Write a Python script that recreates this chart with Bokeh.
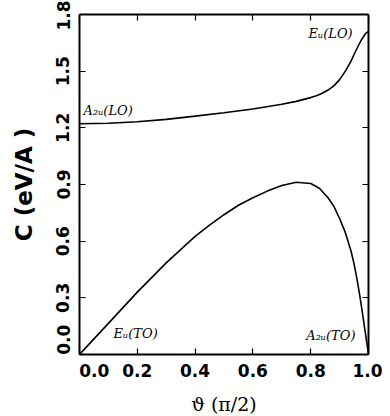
from bokeh.plotting import figure
from bokeh.models import LinearAxis, FixedTicker, NumeralTickFormatter, Range1d
from bokeh.core.properties import value
from bokeh.embed import file_html
from bokeh.resources import INLINE

# upper branch: A2u(LO) -> Eu(LO)
theta_lo = [0.0, 0.1, 0.2, 0.3, 0.4, 0.5, 0.6, 0.7, 0.75, 0.8, 0.82, 0.84, 0.86, 0.88, 0.9, 0.92, 0.94, 0.96, 0.975, 0.99, 1.0]
c_lo = [1.222, 1.224, 1.232, 1.245, 1.262, 1.28, 1.30, 1.325, 1.34, 1.36, 1.37, 1.383, 1.40, 1.422, 1.455, 1.50, 1.555, 1.62, 1.665, 1.70, 1.71]

# lower branch: Eu(TO) -> A2u(TO)
theta_to = [0.0, 0.1, 0.2, 0.3, 0.4, 0.45, 0.5, 0.55, 0.6, 0.65, 0.7, 0.75, 0.8, 0.83, 0.86, 0.88, 0.9, 0.92, 0.94, 0.95, 0.96, 0.97, 0.98, 0.99, 1.0]
c_to = [0.0, 0.165, 0.33, 0.485, 0.625, 0.685, 0.74, 0.79, 0.83, 0.865, 0.895, 0.912, 0.905, 0.88, 0.83, 0.785, 0.72, 0.645, 0.545, 0.48, 0.40, 0.31, 0.21, 0.105, 0.0]

x_ticks = [0.0, 0.2, 0.4, 0.6, 0.8, 1.0]
y_ticks = [0.0, 0.3, 0.6, 0.9, 1.2, 1.5, 1.8]

labels_text = ["A\u2082\u1d64(LO)", "E\u1d64(LO)", "E\u1d64(TO)", "A\u2082\u1d64(TO)"]
labels_x = [0.014, 0.945, 0.118, 0.955]
labels_y = [1.29, 1.70, 0.11, 0.10]

TICK_FONT = "DejaVu Sans"
TICK_SIZE = "17px"
PAD = "\u00a0" * 5  # shifts the corner "0.0" labels off the corner, as in the original

p = figure(frame_width=289, frame_height=340, output_backend="svg", toolbar_location=None,
           x_range=Range1d(0, 1.0), y_range=Range1d(0, 1.8),
           min_border_left=79, min_border_right=14, min_border_top=14, min_border_bottom=52)
p.outline_line_color = None
p.xgrid.visible = False
p.ygrid.visible = False
p.background_fill_color = "white"
p.border_fill_color = "white"

p.line(theta_lo, c_lo, line_color="black", line_width=1.6)
p.line(theta_to, c_to, line_color="black", line_width=1.6)

p.text(x=labels_x[:1] + labels_x[2:3], y=labels_y[:1] + labels_y[2:3],
       text=labels_text[:1] + labels_text[2:3],
       text_font=value("DejaVu Serif"), text_font_style="italic", text_font_size="13px",
       text_align="left", text_baseline="middle", text_color="black")
p.text(x=labels_x[1:2] + labels_x[3:4], y=labels_y[1:2] + labels_y[3:4],
       text=labels_text[1:2] + labels_text[3:4],
       text_font=value("DejaVu Serif"), text_font_style="italic", text_font_size="13px",
       text_align="right", text_baseline="middle", text_color="black")

def frame_axis(ax):
    """Axis line and inward ticks only."""
    ax.axis_line_color = "black"
    ax.axis_line_width = 2
    ax.major_tick_in = 6
    ax.major_tick_out = 0
    ax.minor_tick_in = 0
    ax.minor_tick_out = 0
    ax.major_tick_line_color = "black"
    ax.major_tick_line_width = 1.2
    ax.major_label_text_font_size = "0px"
    ax.major_label_text_alpha = 0
    ax.major_label_standoff = 0
    ax.axis_label_standoff = 0

def label_axis(ax):
    """Tick labels and title only (no line, no ticks)."""
    ax.axis_line_color = None
    ax.major_tick_line_color = None
    ax.minor_tick_line_color = None
    ax.major_tick_in = 0
    ax.major_tick_out = 0
    ax.minor_tick_in = 0
    ax.minor_tick_out = 0
    ax.major_label_text_font = TICK_FONT
    ax.major_label_text_font_style = "bold"
    ax.major_label_text_font_size = TICK_SIZE
    ax.major_label_text_color = "black"
    ax.axis_label_text_color = "black"

# default (inner) axes: frame lines with ticks
p.xaxis[0].ticker = FixedTicker(ticks=x_ticks)
frame_axis(p.xaxis[0])
p.yaxis[0].ticker = FixedTicker(ticks=y_ticks)
frame_axis(p.yaxis[0])

top = LinearAxis(ticker=FixedTicker(ticks=x_ticks))
frame_axis(top)
p.add_layout(top, "above")
right = LinearAxis(ticker=FixedTicker(ticks=y_ticks))
frame_axis(right)
p.add_layout(right, "right")

# outer axes: labels and titles
xl = LinearAxis(ticker=FixedTicker(ticks=x_ticks), formatter=NumeralTickFormatter(format="0.0"))
label_axis(xl)
xl.major_label_overrides = {0: PAD + "0.0"}
xl.major_label_standoff = 6
xl.axis_label = "\u03d1 (\u03c0/2)"
xl.axis_label_text_font = "DejaVu Serif"
xl.axis_label_text_font_style = "normal"
xl.axis_label_text_font_size = "19px"
xl.axis_label_standoff = 9
p.add_layout(xl, "below")

yl = LinearAxis(ticker=FixedTicker(ticks=y_ticks), formatter=NumeralTickFormatter(format="0.0"))
label_axis(yl)
yl.major_label_overrides = {0: PAD + "0.0"}
yl.major_label_orientation = "parallel"
yl.major_label_standoff = 6
yl.axis_label = "C (eV/A )"
yl.axis_label_text_font = "DejaVu Sans"
yl.axis_label_text_font_style = "bold"
yl.axis_label_text_font_size = "23px"
yl.axis_label_standoff = 14
p.add_layout(yl, "left")

open("out.html", "w").write(file_html(p, INLINE))
